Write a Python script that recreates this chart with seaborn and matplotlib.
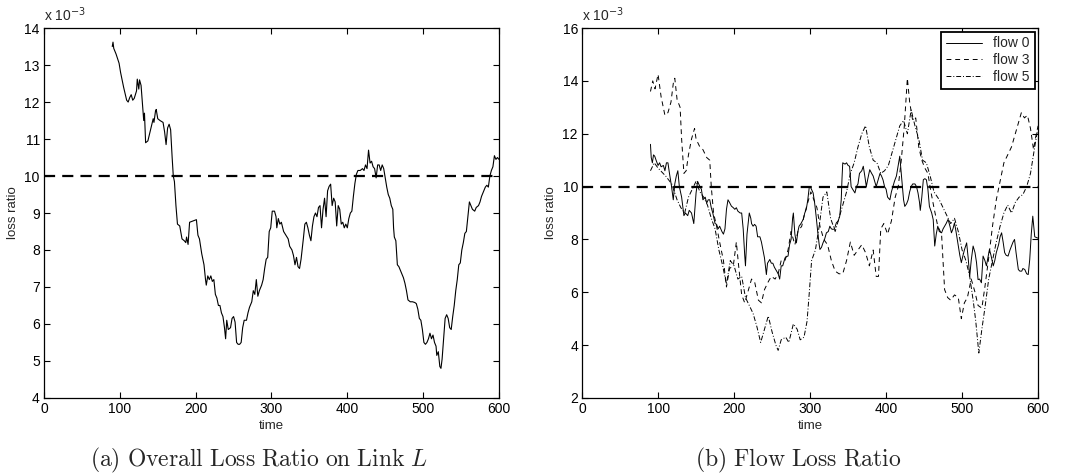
import numpy as np
import pandas as pd
import matplotlib
matplotlib.use("Agg")
import matplotlib.pyplot as plt
import seaborn as sns

# loss ratio values are given in units of 1e-3 (as on the y axes)
target_ratio = 10.0

overall_t = [90, 91, 92, 95, 99, 101, 105, 109, 111, 113, 115, 117, 119, 122, 123, 125, 126, 128, 130, 131.5,
             132.5, 134, 137, 141, 144, 145, 147, 148, 150, 153, 157, 159, 161, 163, 165, 167, 169, 170.5, 172, 174,
             176, 179, 182, 185, 187, 188, 190, 192, 196, 199, 201, 203, 205, 208, 211, 213, 214, 216, 218, 220,
             222, 224, 226, 228, 230, 232, 234, 236, 238, 239.5, 241, 243, 246, 248, 250, 252, 254, 256, 258, 260,
             262, 264, 267, 269, 271, 274, 276, 278, 280, 282, 284, 287, 289, 291, 293, 295, 297, 299, 301, 304,
             306, 307, 309, 311, 313, 316, 319, 322, 324, 327, 329, 331, 333, 335, 337, 339, 342, 344, 346, 348,
             350, 352, 354, 356, 358, 360, 362, 364, 366, 368, 370, 372, 374, 376, 378, 380, 382, 384, 386, 388,
             390, 392, 394, 396, 398, 400, 402, 404, 406, 408, 410, 412, 414, 417, 420, 422, 424, 426, 428, 430,
             432, 434, 436, 438, 440, 442, 444, 446, 448, 450, 452, 454, 456, 458, 460, 461, 462, 464, 466, 468,
             470, 472, 474, 476, 478, 480, 483, 486, 489, 491, 493, 495, 497, 499, 501, 503, 505, 507, 509, 511,
             513, 515, 517, 518, 520, 522, 523.5, 525, 527, 529, 531, 533, 535, 537, 539, 541, 543, 545, 547, 549,
             551, 553, 555, 557, 559, 561, 563, 565, 568, 570, 573, 575, 577, 580, 582, 584, 586, 588, 590, 592,
             594, 596, 598, 600]
overall_loss = [13.5, 13.62, 13.45, 13.3, 13.05, 12.8, 12.4, 12.05, 12.0, 12.12, 12.2, 12.05, 12.1, 12.3, 12.62,
                12.35, 12.6, 12.45, 11.9, 11.5, 11.7, 10.9, 10.95, 11.3, 11.55, 11.45, 11.75, 11.8, 11.55, 11.5,
                11.45, 11.2, 10.85, 11.3, 11.4, 11.25, 10.5, 10.0, 9.85, 9.2, 8.7, 8.65, 8.3, 8.25, 8.2, 8.35, 8.15,
                8.75, 8.78, 8.8, 8.82, 8.4, 8.3, 7.9, 7.6, 7.2, 7.05, 7.3, 7.2, 7.3, 7.15, 7.2, 6.8, 6.7, 6.5, 6.5,
                6.3, 6.2, 5.9, 5.6, 6.1, 5.85, 5.9, 6.15, 6.2, 6.05, 5.5, 5.45, 5.45, 5.5, 5.9, 6.1, 6.1, 6.3, 6.45,
                6.6, 6.9, 6.8, 7.2, 6.75, 6.9, 7.05, 7.2, 7.5, 7.75, 7.8, 8.5, 8.6, 9.05, 9.05, 8.9, 8.6, 8.85, 8.7,
                8.75, 8.5, 8.4, 8.3, 8.1, 8.0, 7.85, 7.6, 7.8, 7.55, 7.5, 7.75, 8.3, 8.7, 8.75, 8.6, 8.4, 8.25, 8.65,
                8.9, 9.0, 8.9, 9.15, 9.2, 8.6, 9.1, 9.4, 8.9, 9.6, 9.72, 9.78, 9.2, 9.4, 9.3, 8.65, 9.2, 9.1, 8.7,
                8.75, 8.6, 8.7, 8.6, 8.85, 9.0, 9.05, 9.45, 9.8, 10.05, 10.15, 10.15, 10.2, 10.15, 10.3, 10.2, 10.7,
                10.35, 10.4, 10.25, 10.2, 9.95, 10.3, 10.3, 10.15, 10.3, 10.2, 9.95, 9.7, 9.5, 9.4, 9.2, 9.1, 8.6,
                8.35, 8.25, 7.6, 7.55, 7.45, 7.35, 7.25, 7.1, 6.9, 6.65, 6.6, 6.6, 6.58, 6.55, 6.4, 6.15, 6.1, 5.85,
                5.5, 5.45, 5.5, 5.6, 5.75, 5.6, 5.7, 5.5, 5.4, 5.15, 5.25, 4.85, 4.8, 5.05, 5.6, 6.15, 6.25, 6.15,
                5.9, 5.85, 6.2, 6.5, 6.9, 7.2, 7.6, 7.65, 8.0, 8.2, 8.45, 8.5, 8.9, 9.3, 9.2, 9.1, 9.05, 9.15, 9.2,
                9.3, 9.45, 9.6, 9.7, 9.75, 9.7, 10.0, 10.15, 10.25, 10.55, 10.45, 10.5, 10.45]

flow0_t = [90, 91, 92.5, 94, 95.6, 98, 100, 102, 104, 107, 109, 111, 113, 115, 117.5, 120, 122, 124, 126, 128,
           131, 134, 136, 139, 141, 144, 147, 150, 152, 155, 157, 159, 162, 164, 166, 168, 170, 172, 175, 177,
           179, 181, 184, 186, 188, 190, 192, 194, 196.5, 199, 201, 203, 205, 208, 210, 212, 214, 215, 217, 220,
           222, 223, 225, 227, 229, 231, 234, 236, 238, 240, 242.5, 244, 247, 249, 251, 253, 256, 258, 260, 262,
           264, 267, 269, 271, 273, 275, 277, 278, 280, 282, 284, 285.5, 288, 291, 293, 295, 297, 299, 301, 304,
           306, 308, 310, 312, 313, 315, 317, 319, 321.5, 324, 326, 328, 330, 332, 334.6, 337, 339, 341, 342, 343,
           346, 348, 350, 352, 354, 356, 359, 361, 363, 365, 368, 370, 372, 374, 376, 378.5, 381, 383, 385, 387,
           390, 392, 394, 396, 398, 400, 402, 405, 407, 409, 411, 413.6, 416, 418, 420, 421.5, 423, 424.6, 427, 429,
           431, 433, 435, 438, 440, 442, 444, 445, 447, 449, 451, 453, 455, 457, 460, 462, 464, 466, 468, 470,
           473, 475, 477, 479, 481.6, 484, 486, 488, 490, 492, 495, 497, 499, 501, 503, 506, 508, 510, 512, 514.5,
           517, 519, 521, 523, 525.4, 527.6, 530, 532, 534, 536, 538, 541, 543, 545, 548, 550, 552, 554, 556, 558,
           560.5, 563, 565, 567, 569, 571, 574, 576, 578.5, 580, 582.5, 585, 587, 589, 591, 593, 595.6, 598.7, 600]
flow0_loss = [11.6, 11.1, 10.9, 11.2, 11.15, 10.95, 10.8, 10.9, 10.75, 10.8, 10.6, 10.9, 10.9, 10.5, 10.05, 9.5,
              10.1, 10.4, 10.6, 10.0, 9.6, 8.9, 9.0, 8.9, 9.1, 9.0, 8.6, 9.76, 10.2, 10.0, 9.9, 9.5, 9.6, 9.38,
              9.5, 9.5, 9.2, 9.0, 8.6, 8.57, 8.4, 8.5, 8.3, 8.2, 8.4, 9.14, 9.5, 9.4, 9.26, 9.2, 9.14, 9.2, 9.07,
              9.0, 9.0, 8.4, 7.4, 7.0, 8.2, 9.0, 8.8, 8.6, 8.5, 8.57, 8.5, 8.1, 8.1, 7.9, 7.6, 7.3, 6.67, 7.1, 7.24,
              7.1, 7.1, 6.95, 6.8, 6.7, 6.5, 7.0, 7.0, 7.3, 7.35, 7.37, 7.8, 8.0, 8.8, 9.0, 8.2, 7.87, 8.3, 8.5,
              8.6, 8.76, 9.0, 9.14, 9.5, 10.0, 9.95, 9.76, 9.38, 8.87, 8.3, 7.8, 7.62, 7.7, 7.87, 8.0, 8.25, 8.3,
              8.5, 8.4, 8.38, 8.4, 8.63, 8.7, 8.88, 9.5, 10.3, 10.9, 10.85, 10.9, 10.8, 10.77, 10.0, 9.9, 9.76,
              10.0, 10.1, 10.5, 10.6, 10.77, 10.4, 10.0, 10.3, 10.64, 10.5, 10.4, 10.2, 10.0, 10.3, 10.5, 10.4,
              10.25, 10.0, 9.9, 9.6, 9.5, 9.8, 10.0, 10.2, 10.4, 10.8, 11.15, 10.5, 10.0, 9.5, 9.25, 9.35, 9.5,
              9.8, 10.0, 10.1, 10.1, 10.0, 9.76, 9.4, 9.1, 9.6, 10.26, 10.3, 10.26, 9.9, 9.25, 9.0, 8.75, 7.75,
              8.2, 8.5, 8.3, 8.25, 8.4, 8.5, 8.6, 8.76, 8.5, 8.25, 8.4, 8.63, 8.3, 7.75, 7.4, 7.12, 7.37, 7.6,
              7.87, 7.3, 6.6, 7.2, 7.75, 7.5, 7.12, 6.48, 6.5, 6.36, 7.37, 7.2, 7.0, 7.3, 7.62, 7.4, 7.0, 7.2, 7.5,
              7.8, 8.1, 8.25, 7.9, 7.5, 7.4, 7.37, 7.6, 7.75, 7.9, 8.0, 7.5, 6.86, 6.8, 6.8, 6.9, 6.86, 6.7, 6.67,
              7.24, 8.2, 8.88, 8.1, 8.06, 8.05]

flow3_t = [90, 93, 96, 100, 104, 109, 113, 117, 120, 122, 125, 129, 131, 134, 137, 140, 144, 148, 150, 155, 159,
           164, 168, 170, 173, 177, 181, 186, 190, 194, 199, 203, 206, 210, 214, 218, 223, 227, 232, 236, 240, 245,
           249, 254, 258, 262, 267, 271, 275, 280, 284, 289, 293, 297, 301, 305, 309, 313, 318, 323, 328, 333, 338,
           343, 348, 353, 358, 363, 368, 373, 378, 383, 387, 390, 393, 397, 402, 407, 412, 416, 420, 424, 428, 431,
           435, 439, 443, 447, 451, 455, 459, 463, 468, 473, 477, 481, 485, 490, 495, 499, 503, 507, 512, 517, 521,
           526, 530, 535, 540, 545, 550, 555, 560, 565, 570, 575, 578, 582, 586, 590, 594, 597, 600]
flow3_loss = [13.6, 14.0, 13.7, 14.25, 13.4, 12.7, 12.8, 13.2, 13.9, 14.1, 13.3, 13.0, 11.8, 10.5, 10.6, 11.2, 11.8,
              12.2, 11.8, 11.5, 11.4, 11.1, 11.0, 10.0, 9.0, 8.5, 7.9, 7.2, 6.2, 6.9, 7.0, 7.9, 7.0, 5.9, 5.6, 6.0,
              6.5, 6.4, 5.7, 5.6, 6.1, 6.4, 6.6, 6.5, 6.7, 7.2, 7.2, 7.6, 8.3, 7.8, 8.3, 8.5, 9.0, 9.4, 9.8, 9.5,
              9.2, 8.5, 8.0, 7.8, 7.2, 6.8, 6.7, 6.7, 7.2, 7.9, 7.4, 7.6, 7.8, 7.5, 7.0, 7.6, 6.6, 6.6, 8.4, 8.6,
              8.2, 8.7, 9.6, 10.0, 11.0, 12.3, 14.1, 13.2, 12.5, 12.6, 11.5, 11.0, 10.7, 10.5, 9.8, 9.2, 8.5, 8.2,
              6.1, 5.8, 5.7, 5.9, 5.8, 5.0, 5.6, 5.8, 6.5, 6.0, 5.5, 5.4, 6.2, 7.3, 8.5, 9.5, 10.2, 10.9, 11.2,
              11.5, 12.0, 12.5, 12.8, 12.6, 12.7, 12.2, 11.4, 11.9, 12.3]

flow5_t = [90, 95, 100, 110, 118, 125, 130, 135, 140, 145, 150, 155, 160, 165, 170, 175, 180, 185, 190, 195, 200,
           205, 210, 215, 220, 225, 230, 235, 240, 245, 250, 255, 258, 262, 268, 272, 278, 283, 287, 292, 296, 299,
           302, 307, 312, 317, 322, 327, 333, 338, 343, 348, 353, 358, 363, 368, 373, 378, 383, 388, 393, 398, 403,
           408, 413, 418, 423, 428, 433, 438, 443, 448, 453, 458, 463, 470, 475, 480, 485, 490, 495, 500, 505, 510,
           515, 518, 522, 526, 530, 535, 540, 545, 550, 555, 560, 565, 570, 575, 580, 585, 590, 595, 599]
flow5_loss = [10.6, 10.9, 10.7, 10.4, 10.1, 9.5, 9.2, 9.0, 9.6, 9.9, 10.2, 9.8, 9.6, 9.3, 8.8, 8.4, 7.6, 7.0, 6.3,
              7.2, 7.0, 6.5, 6.6, 5.8, 5.5, 5.2, 4.7, 4.1, 4.6, 5.1, 4.5, 4.0, 3.8, 4.2, 4.3, 4.1, 4.8, 4.6, 4.2,
              4.3, 4.9, 6.0, 7.2, 7.6, 8.5, 9.6, 9.8, 8.8, 8.3, 8.8, 9.3, 9.8, 10.5, 10.9, 11.5, 12.0, 12.3, 11.5,
              11.0, 10.9, 10.5, 10.6, 10.8, 11.3, 11.8, 12.3, 12.5, 12.0, 12.9, 12.3, 11.8, 11.0, 10.9, 10.4, 9.8,
              9.5, 9.2, 8.9, 8.6, 8.8, 8.3, 7.6, 7.2, 6.6, 5.6, 4.9, 3.7, 4.6, 5.4, 6.5, 7.2, 7.9, 8.5, 9.0, 9.3,
              9.0, 9.4, 9.6, 9.7, 10.0, 10.5, 11.4, 12.1]

flow_labels = ["flow 0", "flow 3", "flow 5"]
x_ticks = [0, 100, 200, 300, 400, 500, 600]
captions = [r"$\mathrm{(a)\ Overall\ Loss\ Ratio\ on\ Link\ }L$", r"$\mathrm{(b)\ Flow\ Loss\ Ratio}$"]

sns.set_style("ticks")
plt.rcParams["font.family"] = ["Liberation Sans", "DejaVu Sans"]
plt.rcParams["mathtext.fontset"] = "cm"

fig = plt.figure(figsize=(10.68, 4.76), dpi=100)
ax1 = fig.add_axes([0.0412, 0.164, 0.426, 0.777])
ax2 = fig.add_axes([0.545, 0.164, 0.427, 0.777])


def style_axes(ax, ylim, yticks):
    ax.set_xlim(0, 600)
    ax.set_ylim(*ylim)
    ax.set_xticks(x_ticks)
    ax.set_yticks(yticks)
    ax.tick_params(direction="in", top=True, right=True, length=4, width=0.8,
                   labelsize=10, colors="black", pad=3)
    for sp in ax.spines.values():
        sp.set_visible(True)
        sp.set_linewidth(0.9)
        sp.set_color("black")
    ax.set_xlabel("time", fontsize=9.5, labelpad=3)
    ax.set_ylabel("loss ratio", fontsize=9.5, labelpad=4)
    ax.text(0.0, 1.012, r"x 10$^{-3}$", transform=ax.transAxes, ha="left", va="bottom", fontsize=10,
            math_fontfamily="dejavusans")
    ax.axhline(target_ratio, color="black", lw=1.6, ls=(0, (5, 3.2)), zorder=1)


# (a) overall loss ratio
df_overall = pd.DataFrame({"time": overall_t, "loss": overall_loss})
sns.lineplot(data=df_overall, x="time", y="loss", ax=ax1, color="black", lw=0.8, errorbar=None)
style_axes(ax1, (4, 14), range(4, 15))

# (b) per-flow loss ratio
series = [(flow0_t, flow0_loss, "-"), (flow3_t, flow3_loss, (0, (5, 4))),
          (flow5_t, flow5_loss, (0, (5, 2, 1, 2)))]
for (t, v, ls), lab in zip(series, flow_labels):
    d = pd.DataFrame({"time": t, "loss": v})
    sns.lineplot(data=d, x="time", y="loss", ax=ax2, color="black", lw=0.7,
                 linestyle=ls, errorbar=None, label=lab)
style_axes(ax2, (2, 16), range(2, 17, 2))
leg = ax2.legend(loc="upper right", fontsize=10, frameon=True, fancybox=False,
                 edgecolor="black", framealpha=1, handlelength=2.6, borderaxespad=0.25,
                 borderpad=0.35, labelspacing=0.2, handletextpad=0.8)
leg.get_frame().set_linewidth(1.3)

fig.text(0.242, 0.033, captions[0], ha="center", va="center", fontsize=17)
fig.text(0.747, 0.033, captions[1], ha="center", va="center", fontsize=17)

fig.savefig("out.png", dpi=100)
